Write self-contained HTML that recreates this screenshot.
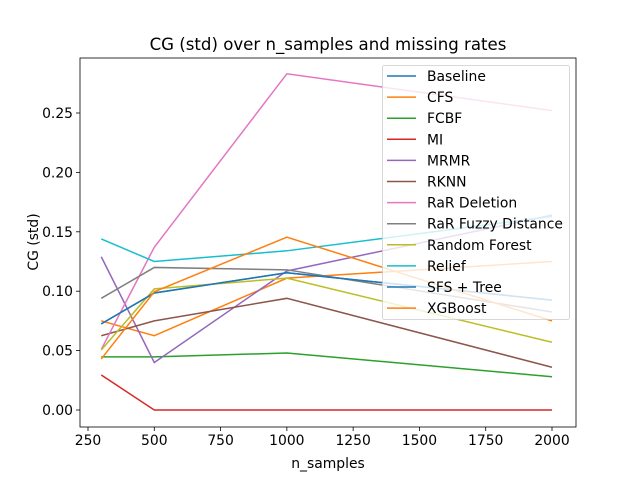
<!DOCTYPE html>
<html><head><meta charset="utf-8"><style>body{margin:0;background:#fff}svg{display:block;font-family:"DejaVu Sans","Liberation Sans",sans-serif}</style></head>
<body>
<svg id="chart" width="640" height="480" xmlns="http://www.w3.org/2000/svg"></svg>
<script>
const nSamples = [300, 500, 1000, 2000];
const seriesNames = ["Baseline","CFS","FCBF","MI","MRMR","RKNN","RaR Deletion","RaR Fuzzy Distance","Random Forest","Relief","SFS + Tree","XGBoost"];
const seriesColors = ["#1f77b4","#ff7f0e","#2ca02c","#d62728","#9467bd","#8c564b","#e377c2","#7f7f7f","#bcbd22","#17becf","#1f77b4","#ff7f0e"];
const baseline = [0.0725, 0.0985, 0.1155, 0.0925];
const cfs = [0.075, 0.0625, 0.111, 0.125];
const fcbf = [0.0447, 0.0447, 0.048, 0.028];
const mi = [0.0295, 0, 0, 0];
const mrmr = [0.129, 0.040, 0.117, 0.164];
const rknn = [0.0625, 0.075, 0.094, 0.036];
const rarDeletion = [0.051, 0.137, 0.283, 0.252];
const rarFuzzy = [0.094, 0.120, 0.118, 0.0825];
const randomForest = [0.0505, 0.102, 0.111, 0.057];
const relief = [0.144, 0.125, 0.134, 0.163];
const sfsTree = [0.0725, 0.0985, 0.1155, 0.0925];
const xgboost = [0.043, 0.0995, 0.1455, 0.075];
const seriesValues = [baseline,cfs,fcbf,mi,mrmr,rknn,rarDeletion,rarFuzzy,randomForest,relief,sfsTree,xgboost];
const xTicks = [250,500,750,1000,1250,1500,1750,2000];
const yTicks = [0,0.05,0.10,0.15,0.20,0.25];

const NS="http://www.w3.org/2000/svg";
const svg=document.getElementById('chart');
const L=80,R=576,T=58,B=427;
const xs=v=>88+(v-250)*(552-88)/1750;
const ys=v=>410-v*(410-113)/0.25;
function el(tag,attrs,parent){const e=document.createElementNS(NS,tag);for(const k in attrs)e.setAttribute(k,attrs[k]);(parent||svg).appendChild(e);return e;}

const title=el('text',{x:328,y:50,'text-anchor':'middle','font-size':16.6,fill:'#000'});
title.textContent='CG (std) over n_samples and missing rates';



xTicks.forEach(t=>{
  const g=el('g',{});
  
  
  el('line',{x1:xs(t),x2:xs(t),y1:B,y2:B+4,stroke:'#000','stroke-width':0.8},g);
  const tx=el('text',{x:xs(t),y:B+18,'text-anchor':'middle','font-size':13.9},g);tx.textContent=t;
});
yTicks.forEach(t=>{
  const g=el('g',{});
  
  
  el('line',{x1:L-4,x2:L,y1:ys(t),y2:ys(t),stroke:'#000','stroke-width':0.8},g);
  const tx=el('text',{x:L-7,y:ys(t)+5,'text-anchor':'end','font-size':13.9},g);tx.textContent=t.toFixed(2);
});
const xl=el('text',{x:328,y:468,'text-anchor':'middle','font-size':13.9});xl.textContent='n_samples';


const yl=el('text',{x:0,y:0,'text-anchor':'middle','font-size':13.9,transform:'translate(38,242) rotate(-90)'});yl.textContent='CG (std)';



seriesValues.forEach((vals,i)=>{
  const p=el('polyline',{points:vals.map((v,j)=>xs(nSamples[j])+','+ys(v)).join(' '),fill:'none',stroke:seriesColors[i],'stroke-width':1.5});
  
  
});

const frame=el('rect',{x:L,y:T,width:R-L,height:B-T,fill:'none',stroke:'#000','stroke-width':0.8});



const lg=el('g',{});


el('rect',{x:382.5,y:65.5,width:187,height:254,rx:2,fill:'#fff','fill-opacity':0.8,stroke:'#ccc','stroke-width':0.8},lg);
seriesNames.forEach((n,i)=>{
  const y=76+i*21.1;
  const g=el('g',{},lg);
  
  
  el('line',{x1:387,x2:416,y1:y,y2:y,stroke:seriesColors[i],'stroke-width':1.5},g);
  const t=el('text',{x:427,y:y+5,'font-size':13.9},g);t.textContent=n;
});
</script>
</body></html>
